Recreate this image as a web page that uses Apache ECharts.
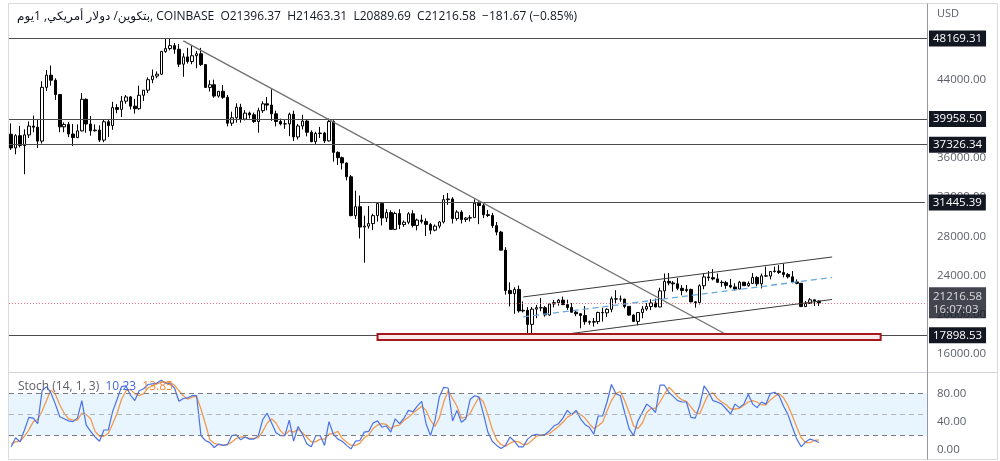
<!DOCTYPE html>
<html><head><meta charset="utf-8">
<script src="https://cdn.jsdelivr.net/npm/echarts@6/dist/echarts.min.js"></script>
<style>html,body{margin:0;padding:0;background:#fff}#c{width:1000px;height:461px}</style>
</head><body><div id="c"></div>
<script>
// ---------- data ----------
const startDate = '2022-02-21';
const emptySlots = 24;                       // blank space right of the last candle
const symbolName = 'بتكوين/ دولار أمريكي, 1يوم, COINBASE';
// [open, high, low, close] daily candles
const ohlc = [
[38400,39500,36800,37000],[37000,38400,36350,38250],[38250,39250,37050,37250],[37250,38900,34320,38330],
[38330,39700,38020,39230],[39230,40300,38600,39120],[39120,39870,37000,37700],[37700,43800,37450,43180],
[43180,44950,42800,44420],[44420,45400,43350,43900],[43900,44100,41900,42450],[42450,42500,38600,39150],
[39150,39600,38600,39400],[39400,39650,38100,38420],[38420,39450,37200,38060],[38060,39400,38000,38740],
[38740,42600,38680,41960],[41960,42050,38550,39440],[39440,40250,38250,38750],[38750,39400,38670,38820],
[38820,39300,37600,37800],[37800,39930,37580,39670],[39670,39870,38120,39280],[39280,41700,38850,41120],
[41120,41470,40530,40930],[40930,42300,40150,41770],[41770,42400,41500,42200],[42200,42300,40920,41260],
[41260,42000,40500,41000],[41000,43350,40900,42370],[42370,42900,41800,42890],[42890,44200,42600,43960],
[43960,45000,43600,44330],[44330,44800,44100,44520],[44520,46900,44420,46830],[46830,48169,46700,47130],
[47130,48100,46950,47430],[47430,47700,46600,47060],[47060,47600,45250,45540],[45540,46650,44250,46280],
[46280,47200,45600,45810],[45810,47450,45540,46400],[46400,46880,45120,46600],[46600,47200,45350,45500],
[45500,45500,43120,43170],[43170,43900,42750,43440],[43440,43960,42120,42290],[42290,42800,42130,42780],
[42780,43420,42000,42160],[42160,42400,39200,39530],[39530,40700,39250,40080],[40080,41550,39580,41150],
[41150,41500,39570,39940],[39940,40850,39800,40550],[40550,40700,40000,40380],[40380,40600,39550,39690],
[39690,41100,38550,40800],[40800,41750,40570,41500],[41500,42200,40830,41370],[41370,42980,39760,40480],
[40480,40800,39200,39700],[39700,39990,39300,39450],[39450,39900,38950,39460],[39450,40600,38200,40430],
[40430,40800,37700,38120],[38120,39450,37870,39240],[39240,40380,38880,39740],[39740,39900,38180,38600],
[38600,38800,37580,37640],[37640,38650,37400,38470],[38470,39150,38000,38520],[38520,38650,37500,37720],
[37720,40000,37660,39690],[39690,39830,35600,36550],[36550,36650,35260,36010],[36010,36130,34800,35470],
[35470,35500,33700,34060],[34060,34240,30040,30100],[30100,32650,29750,31010],[31010,32150,27770,28940],
[28940,30100,25300,29030],[29030,31080,28780,29290],[29290,30300,28620,30100],[30100,31400,29500,31330],
[31330,31330,29100,29860],[29860,30750,29450,30420],[30420,30650,28670,28700],[28700,30500,28660,30320],
[30320,30750,28730,29190],[29190,29600,28950,29430],[29430,30450,29230,30290],[30290,30650,28900,29100],
[29100,29800,28600,29650],[29650,30200,29300,29510],[29510,29830,28020,29200],[29200,29350,28200,28620],
[28620,29200,28500,29030],[29030,29550,28800,29450],[29450,32200,29300,31730],[31730,32400,31200,31800],
[31800,31980,29300,29800],[29800,30650,29580,30460],[30460,30650,29300,29700],[29700,29950,29450,29850],
[29850,30150,29500,29900],[29900,31750,29880,31370],[31370,31550,29230,31130],[31130,31320,29850,30200],
[30200,30680,29950,30110],[30110,30380,28850,29080],[29080,29450,28100,28420],[28420,28550,26560,26580],
[26580,26880,22050,22470],[22470,23300,20850,22150],[22150,22800,20100,22580],[22580,22980,20220,20390],
[20390,21350,20240,20450],[20450,20780,17600,19010],[19010,20800,17950,20570],[20570,21000,19650,20720],
[20720,21700,20350,20710],[20710,20870,19800,19970],[19970,21200,19900,21100],[21100,21500,20750,21230],
[21230,21600,20930,21490],[21490,21850,20980,21030],[21030,21530,20500,20730],[20730,21200,20200,20260],
[20260,20400,19850,20100],[20100,20150,18620,19930],[19930,20880,18980,19290],[19290,19400,18980,19240],
[19240,19660,18780,19300],[19300,20300,19050,20230],[20230,20710,19300,20190],[20190,20650,19780,20550],
[20550,21850,20250,21620],[21620,22500,21200,21590],[21590,21950,21320,21600],[21600,21600,20650,20850],
[20850,20850,19900,19960],[19960,20050,19250,19320],[19320,20250,18920,20220],[20220,20880,19630,20580],
[20580,21200,20400,20830],[20830,21580,20480,21200],[21200,21650,20760,20790],[20790,22750,20760,22430],
[22430,24200,21600,23400],[23400,24250,23000,23240],[23240,23430,22350,23150],[23150,23750,22500,22690],
[22690,23000,21970,22460],[22460,23030,22290,22580],[22580,22660,21270,21310],[21310,21380,20720,21240],
[21240,23100,21050,22950],[22950,24200,22600,23850],[23850,24450,23450,23780],[23780,24650,23500,23650],
[23650,24200,23230,23300],[23300,23500,22850,23270],[23270,23450,22650,22990],[22990,23650,22700,22830],
[22830,23200,22450,22620],[22620,23450,22600,23310],[23310,23350,22930,22960],[22960,23400,22850,23180],
[23180,24250,23150,23800],[23800,23930,22900,23150],[23150,24200,22680,23960],[23960,24900,23880,23940],
[23940,24450,23600,24400],[24400,24900,24300,24450],[24450,25050,24150,24310],[24310,25200,23800,24100],
[24100,24250,23700,23860],[23860,24450,23200,23340],[23340,23600,23100,23200],[23200,23200,20800,20830],
[20830,21400,20780,21140],[21140,21700,21100,21520],[21520,21520,20880,21398.25],[21396.37,21463.31,20889.69,21216.58]
];
// Stochastic (14,1,3): %K (blue) and %D (orange)
const stochK = [4,17,11,28,46,45,37,84,90,81,65,47,44,41,40,45,70,35,26,18,12,28,28,55,72,90,91,78,70,84,
87,93,94,95,99,95,94,88,69,73,74,77,77,20,13,10,3,8,6,7,20,21,14,18,15,15,20,43,52,38,24,20,20,42,12,33,
22,8,4,20,20,6,40,22,15,12,6,1,12,13,25,26,38,41,32,34,25,44,37,45,56,54,62,69,37,20,
41,75,89,88,41,56,39,44,72,77,75,51,25,12,6,1.5,6,18,12,4,4,15,20,22,20,22,27,34,37,45,
56,50,56,44,36,32,22,48,48,68,93,80,77,53,30,20,41,53,65,60,53,92,92,82,76,70,68,68,46,45,
63,91,82,70,68,65,58,51,65,60,65,79,65,60,68,65,80,82,77,62,50,32,15,4,11,15,13,10.23];
const stochD = [8,11,12,19,28,40,43,55,70,85,79,64,52,44,42,42,52,50,44,26,19,19,23,37,52,72,84,86,80,77,
80,88,91,94,96,96,96,92,84,77,72,75,76,58,37,14,9,7,6,7,11,16,18,18,16,16,17,26,38,44,38,27,21,27,25,29,
24,18,11,11,15,15,22,23,26,16,11,6,6,9,17,21,30,35,37,36,30,34,35,42,46,52,57,62,56,42,
33,45,68,84,73,62,45,46,52,64,75,68,50,29,14,7,5,9,12,11,7,8,13,19,21,21,23,28,33,39,
46,50,54,50,45,37,30,34,39,55,70,80,83,70,53,34,30,38,53,59,59,68,79,89,83,76,71,69,61,53,
51,66,79,81,73,68,64,58,58,59,63,68,70,68,64,64,71,76,80,74,63,48,32,17,10,10,13,13.85];
const stochParams = '(14, 1, 3)';
// horizontal levels spanning the whole pane
const fullLevels = [48169.31, 39958.50, 37326.34, 17898.53];
// level starting part-way (candle index, price)
const partLevel = [79, 31445.39];
const countdown = '16:07:03';
// drawn lines: [[candleIndex, price], [candleIndex, price]]
const downTrend = [[39, 47913], [162, 17988]];
const channelUpper = [[116, 21810], [186, 25887]];
const channelLower = [[117, 17508], [186, 21555]];
const channelMid = [[116, 19771], [186, 23797]];
const supportZone = [[83, 18038], [197, 17427]];
const priceAxis = {min: 12000, max: 52000, interval: 4000, shownMin: 16000, shownMax: 48000};
const stochAxis = {min: -12, max: 108, shown: [0, 40, 80]};
const stochLevels = [80, 50, 20];

// ---------- build ----------
const FONT = "'Open Sans', 'DejaVu Sans', sans-serif";
const dates = [];
{ const d = new Date(startDate + 'T00:00:00Z');
  for (let i = 0; i < ohlc.length; i++) { dates.push(d.toISOString().slice(0,10)); d.setUTCDate(d.getUTCDate()+1); }
  for (let i = 0; i < emptySlots; i++) dates.push(''); }
const lastIdx = dates.length - 1;
const candleData = ohlc.map(r => [r[0], r[3], r[2], r[1]]);
const last = ohlc[ohlc.length-1], prev = ohlc[ohlc.length-2];
const chg = last[3] - prev[3];
const minus = '\u2212';
const fmt = v => (v < 0 ? minus : '') + Math.abs(v).toFixed(2);
const titleText = `${symbolName}  O${last[0].toFixed(2)}  H${last[1].toFixed(2)}  L${last[2].toFixed(2)}  C${last[3].toFixed(2)}  ${fmt(chg)} (${fmt(chg/prev[3]*100)}%)`;

const boxLabel = (txt, dist) => ({show: true, position: 'end', formatter: txt, distance: dist || 2,
  backgroundColor: '#131722', color: '#fff', fontSize: 11.5, fontFamily: FONT, padding: [2, 4, 1, 4], lineHeight: 13});
const levelColor = '#4d4d4d';
const seg = (pts, style) => [
  {coord: pts[0], lineStyle: style, label: {show: false}},
  {coord: pts[1], lineStyle: style, label: {show: false}}];

const markLines = [];
fullLevels.forEach(v => markLines.push({yAxis: v, lineStyle: {color: levelColor, width: 1, type: 'solid'},
  label: boxLabel(v.toFixed(2))}));
markLines.push([
  {coord: [partLevel[0], partLevel[1]], lineStyle: {color: levelColor, width: 1, type: 'solid'}, label: boxLabel(partLevel[1].toFixed(2), 4)},
  {coord: [lastIdx, partLevel[1]], lineStyle: {color: levelColor, width: 1, type: 'solid'}, label: boxLabel(partLevel[1].toFixed(2), 4)}]);
markLines.push({yAxis: last[3], lineStyle: {color: '#f7525f', width: 1, type: [1, 2], opacity: 0.8},
  label: Object.assign(boxLabel(last[3].toFixed(2) + '\n' + countdown), {padding: [3, 4, 2, 4]})});
markLines.push(seg(downTrend, {color: '#6f6f6f', width: 1.3, type: 'solid'}));
markLines.push(seg(channelUpper, {color: '#3a3a3a', width: 1, type: 'solid'}));
markLines.push(seg(channelLower, {color: '#3a3a3a', width: 1, type: 'solid'}));
markLines.push(seg(channelMid, {color: '#6aa8e0', width: 1.3, type: [6, 4]}));

const hiddenX = (gi) => ({type: 'category', gridIndex: gi, data: dates, boundaryGap: true,
  axisLine: {show: false}, axisTick: {show: false}, axisLabel: {show: false}, splitLine: {show: false}});

const option = {
  animation: false,
  textStyle: {fontFamily: FONT},
  title: [
    {text: titleText, left: 12, top: 6, textStyle: {fontSize: 12, fontWeight: 'normal', color: '#131722', fontFamily: FONT}},
    {text: `{a|Stoch ${stochParams}}  {b|${stochK[stochK.length-1].toFixed(2)}}  {c|${stochD[stochD.length-1].toFixed(2)}}`,
     left: 13, top: 376, textStyle: {fontSize: 12, fontWeight: 'normal', rich: {
       a: {color: '#5d606b', fontSize: 12, fontFamily: FONT},
       b: {color: '#3f6ae0', fontSize: 12, fontFamily: FONT},
       c: {color: '#f08a3c', fontSize: 12, fontFamily: FONT}}}}
  ],
  grid: [
    {left: 9, width: 918, top: 0.8, height: 392.4},
    {left: 9, width: 918, top: 374, height: 84}
  ],
  xAxis: [hiddenX(0), hiddenX(1)],
  yAxis: [
    {type: 'value', gridIndex: 0, position: 'right', min: priceAxis.min, max: priceAxis.max, interval: priceAxis.interval,
     axisLine: {show: false}, axisTick: {show: false}, splitLine: {show: false},
     axisLabel: {margin: 10, color: '#5d606b', fontSize: 11.5, fontFamily: FONT,
       formatter: v => (v >= priceAxis.shownMin && v <= priceAxis.shownMax) ? v.toFixed(2) : ''}},
    {type: 'value', gridIndex: 1, position: 'right', min: stochAxis.min, max: stochAxis.max, splitNumber: 6,
     axisLine: {show: false}, axisTick: {show: false}, splitLine: {show: false},
     axisLabel: {margin: 10, color: '#5d606b', fontSize: 11.5, fontFamily: FONT, showMinLabel: false, showMaxLabel: false,
       formatter: v => stochAxis.shown.includes(v) ? v.toFixed(2) : ''}}
  ],
  series: [
    {type: 'candlestick', xAxisIndex: 0, yAxisIndex: 0, data: candleData, barWidth: 3,
     itemStyle: {color: '#ffffff', color0: '#000000', borderColor: '#000000', borderColor0: '#000000', borderWidth: 1},
     markLine: {symbol: ['none', 'none'], silent: true, animation: false, z: 5, data: markLines},
     markArea: {silent: true, z: 20, data: [[
       {coord: supportZone[0], itemStyle: {color: '#fbeaea', borderColor: '#a3191e', borderWidth: 2}},
       {coord: supportZone[1]}]]}
    },
    {type: 'line', xAxisIndex: 1, yAxisIndex: 1, data: stochD, showSymbol: false, z: 3,
     lineStyle: {color: '#f39a4c', width: 1.3},
     markArea: {silent: true, z: 1, data: [[{yAxis: stochLevels[0], itemStyle: {color: 'rgba(33,150,243,0.1)'}}, {yAxis: stochLevels[2]}]]},
     markLine: {symbol: ['none', 'none'], silent: true, label: {show: false},
       data: stochLevels.map((v, k) => ({yAxis: v, lineStyle: {color: k === 1 ? '#b2b5be' : '#787b86', width: 1, type: [5, 4]}}))}
    },
    {type: 'line', xAxisIndex: 1, yAxisIndex: 1, data: stochK, showSymbol: false, z: 4,
     lineStyle: {color: '#4a72e6', width: 1.2}}
  ],
  graphic: [
    {type: 'rect', silent: true, z: 100, shape: {x: 8.5, y: 3.5, width: 989, height: 456}, style: {fill: null, stroke: '#d8dae0', lineWidth: 1}},
    {type: 'line', silent: true, z: 100, shape: {x1: 8.5, y1: 372.5, x2: 997.5, y2: 372.5}, style: {stroke: '#d1d4dc', lineWidth: 1}},
    {type: 'line', silent: true, z: 100, shape: {x1: 927.5, y1: 3.5, x2: 927.5, y2: 459.5}, style: {stroke: '#9598a1', lineWidth: 1}},
    {type: 'text', silent: true, z: 100, left: 937, top: 8, style: {text: 'USD', fill: '#5d606b', fontSize: 11, fontFamily: FONT}}
  ]
};
const chart = echarts.init(document.getElementById('c'), null, {renderer: 'canvas'});
chart.setOption(option);
</script></body></html>
